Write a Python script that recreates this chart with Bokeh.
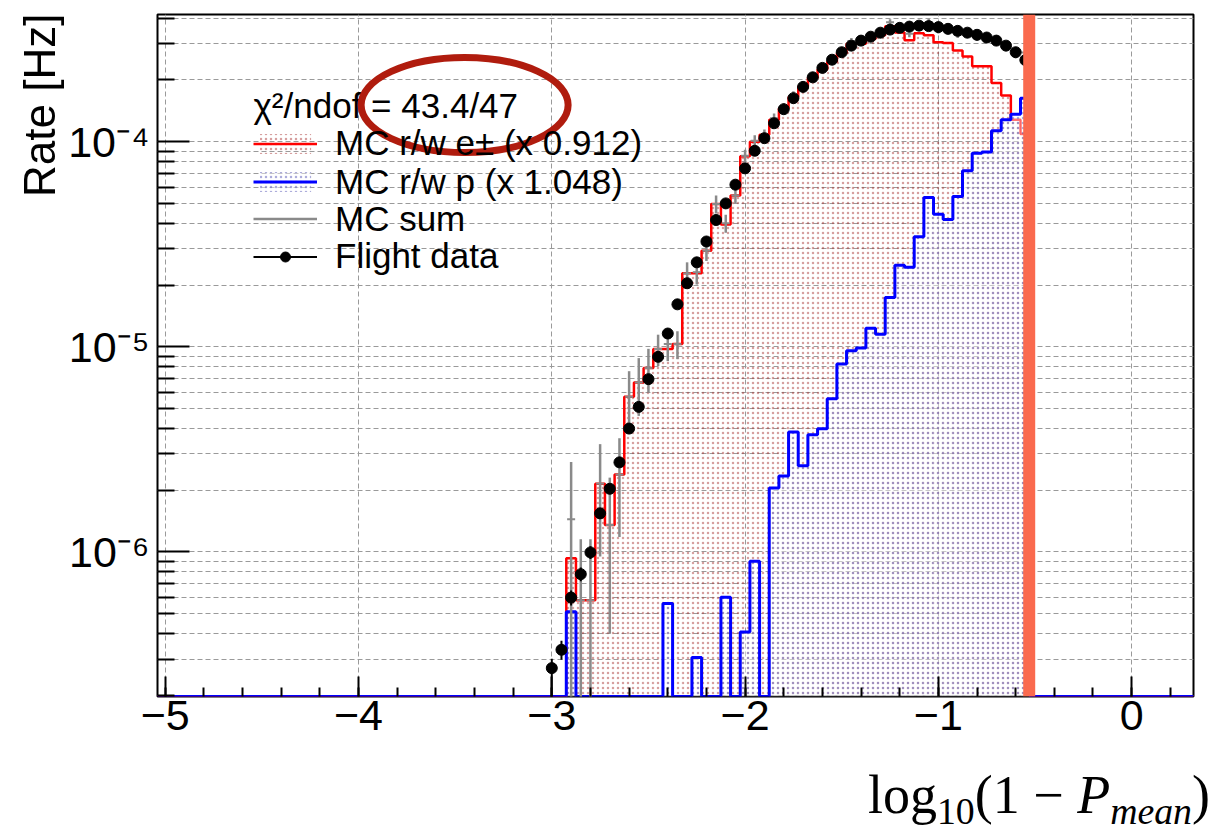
import numpy as np
from bokeh.plotting import figure
from bokeh.layouts import column
from bokeh.models import (Span, Legend, LegendItem, FixedTicker, Label,
                          CustomJSTickFormatter, Range1d, Div)
from bokeh.embed import file_html
from bokeh.resources import INLINE

# ---------------- data ----------------
bin_width = 0.05
bin_centers = [-3.00, -2.95, -2.90, -2.85, -2.80, -2.75, -2.70, -2.65, -2.60, -2.55,
               -2.50, -2.45, -2.40, -2.35, -2.30, -2.25, -2.20, -2.15, -2.10, -2.05,
               -2.00, -1.95, -1.90, -1.85, -1.80, -1.75, -1.70, -1.65, -1.60, -1.55,
               -1.50, -1.45, -1.40, -1.35, -1.30, -1.25, -1.20, -1.15, -1.10, -1.05,
               -1.00, -0.95, -0.90, -0.85, -0.80, -0.75, -0.70, -0.65, -0.60, -0.55]

mc_electron = [0, 0, 9.3e-7, 5.8e-7, 5.8e-7, 2.15e-6, 1.35e-6, 2.38e-6, 5.7e-6, 6.7e-6,
               7.87e-6, 9.75e-6, 9.75e-6, 1.03e-5, 2.28e-5, 2.28e-5, 2.94e-5, 4.97e-5, 3.94e-5, 5.46e-5,
               8.5e-5, 1.0e-4, 1.08e-4, 1.28e-4, 1.45e-4, 1.65e-4, 1.86e-4, 2.05e-4, 2.25e-4, 2.45e-4,
               2.70e-4, 3.0e-4, 3.0e-4, 3.17e-4, 3.3e-4, 3.65e-4, 3.41e-4, 3.12e-4, 3.38e-4, 3.3e-4,
               3.05e-4, 3.03e-4, 2.78e-4, 2.6e-4, 2.33e-4, 2.33e-4, 1.93e-4, 1.68e-4, 1.28e-4, 1.09e-4]

mc_proton = [0, 0, 5.1e-7, 0, 0, 0, 0, 0, 0, 0,
             0, 0, 5.6e-7, 0, 0, 3.05e-7, 0, 0, 6.0e-7, 0,
             4.07e-7, 9.0e-7, 0, 2.05e-6, 2.34e-6, 3.84e-6, 2.63e-6, 3.72e-6, 3.98e-6, 5.58e-6,
             8.24e-6, 9.55e-6, 9.86e-6, 1.23e-5, 1.15e-5, 1.74e-5, 2.5e-5, 2.44e-5, 3.44e-5, 5.35e-5,
             4.43e-5, 4.17e-5, 5.41e-5, 7.22e-5, 8.77e-5, 8.9e-5, 1.13e-4, 1.28e-4, 1.36e-4, 1.63e-4]

mc_sum_err = [0, 0, 1.3e-6, 5.7e-7, 5.7e-7, 1.2e-6, 9.5e-7, 1.2e-6, 1.9e-6, 2.1e-6,
              1.9e-6, 1.7e-6, 1.8e-6, 1.6e-6, 3.0e-6, 3.0e-6, 3.2e-6, 5.0e-6, 4.0e-6, 4.5e-6,
              6.0e-6, 6.5e-6, 6.5e-6, 7.0e-6, 7.0e-6, 7.5e-6, 8.0e-6, 8.5e-6, 9.0e-6, 9.5e-6,
              1.0e-5, 1.1e-5, 1.1e-5, 1.2e-5, 1.2e-5, 1.3e-5, 1.3e-5, 1.3e-5, 1.3e-5, 1.3e-5,
              1.2e-5, 1.2e-5, 1.2e-5, 1.1e-5, 1.1e-5, 1.1e-5, 1.0e-5, 9.5e-6, 9.0e-6, 8.5e-6]

flight_data = [2.71e-7, 3.33e-7, 5.98e-7, 7.78e-7, 9.93e-7, 1.54e-6, 2.03e-6, 2.73e-6, 3.99e-6, 5.09e-6,
               6.95e-6, 8.93e-6, 1.16e-5, 1.61e-5, 2.04e-5, 2.58e-5, 3.26e-5, 4.15e-5, 5.0e-5, 6.17e-5,
               7.41e-5, 9.03e-5, 1.04e-4, 1.23e-4, 1.44e-4, 1.63e-4, 1.85e-4, 2.06e-4, 2.29e-4, 2.51e-4,
               2.73e-4, 2.94e-4, 3.11e-4, 3.25e-4, 3.40e-4, 3.52e-4, 3.59e-4, 3.64e-4, 3.68e-4, 3.66e-4,
               3.62e-4, 3.55e-4, 3.47e-4, 3.40e-4, 3.32e-4, 3.22e-4, 3.11e-4, 2.94e-4, 2.73e-4, 2.50e-4]

flight_err_hi = [3.0e-8, 3.5e-8, 5e-8, 6e-8, 7e-8, 9e-8, 1.1e-7, 1.3e-7, 1.6e-7, 1.8e-7,
                 2.1e-7, 2.4e-7, 2.7e-7, 3.2e-7, 3.6e-7, 4.0e-7, 4.5e-7, 5.1e-7, 5.6e-7, 6.2e-7,
                 6.8e-7, 7.5e-7, 8.1e-7, 8.8e-7, 9.5e-7, 1.0e-6, 1.1e-6, 1.15e-6, 1.2e-6, 1.3e-6,
                 1.35e-6, 1.4e-6, 1.45e-6, 1.5e-6, 1.5e-6, 1.55e-6, 1.55e-6, 1.6e-6, 1.6e-6, 1.6e-6,
                 1.6e-6, 1.55e-6, 1.55e-6, 1.5e-6, 1.5e-6, 1.5e-6, 1.45e-6, 1.4e-6, 1.35e-6, 1.3e-6]
flight_err_lo = [2.71e-7] + flight_err_hi[1:]

legend_header = "\u03c7\u00b2/ndof = 43.4/47"
legend_labels = ["MC r/w e\u00b1 (x 0.912)", "MC r/w p (x 1.048)", "MC sum", "Flight data"]
y_title = "Rate [Hz]"
x_title_html = "log<sub>10</sub>(1 &minus; <i>P<sub>mean</sub></i>)"
x_major_ticks = [-5, -4, -3, -2, -1, 0]
y_major_ticks = [1e-6, 1e-5, 1e-4]
cut_value = -0.53

X_START, X_END = -5.04, 0.32
Y_START, Y_END = 1.97e-7, 4.17e-4

# ---------------- styles ----------------
SANS = "Liberation Sans"
SERIF = "Liberation Serif"
RED = "#ff0000"
BLUE = "#0000ff"
GRAY = "#8a8a8a"
W = 1218
MAIN_H = 760
TITLE_H = 74
FRAME_BOTTOM = 696  # canvas y of the frame bottom

p = figure(width=W, height=MAIN_H, x_range=Range1d(X_START, X_END),
           y_range=Range1d(Y_START, Y_END), y_axis_type="log",
           output_backend="svg", toolbar_location=None,
           min_border_left=157, min_border_right=25, min_border_top=14,
           min_border_bottom=MAIN_H - FRAME_BOTTOM)
p.background_fill_color = "white"
p.border_fill_color = "white"
p.outline_line_color = "black"
p.outline_line_width = 2

c = np.array(bin_centers)
left = c - bin_width / 2
right = c + bin_width / 2
e_vals = np.array(mc_electron, dtype=float)
p_vals = np.array(mc_proton, dtype=float)
d_vals = np.array(flight_data, dtype=float)
s_vals = e_vals + p_vals


def step_xy(vals):
    xs = np.concatenate([[X_START], left, [right[-1], X_END]])
    ys = np.concatenate([[Y_START], np.where(vals > 0, vals, Y_START), [Y_START, Y_START]])
    return xs, ys


# red electron histogram (fill + outline)
me = e_vals > 0
red_fill = p.quad(left=left[me], right=right[me], bottom=Y_START, top=e_vals[me],
                  fill_color=None, line_color=None, hatch_pattern="dot",
                  hatch_color="#a52a2a", hatch_scale=5, hatch_weight=1.2, hatch_alpha=0.45)
xs, ys = step_xy(e_vals)
red_line = p.step(x=xs, y=ys, mode="after", line_color=RED, line_width=2.5)

# blue proton histogram
mp = p_vals > 0
blue_fill = p.quad(left=left[mp], right=right[mp], bottom=Y_START, top=p_vals[mp],
                   fill_color="white", fill_alpha=0.45, line_color=None, hatch_pattern="dot",
                   hatch_color="#4a4ab0", hatch_scale=5, hatch_weight=1.2, hatch_alpha=0.45)
xs, ys = step_xy(p_vals)
blue_line = p.step(x=xs, y=ys, mode="after", line_color=BLUE, line_width=3)

# MC sum (gray error bars)
ms = s_vals > 0
err = np.array(mc_sum_err)
sum_lo = np.maximum(s_vals - err, Y_START * 0.5)
sum_hi = s_vals + err
sum_err = p.segment(x0=c[ms], y0=sum_lo[ms], x1=c[ms], y1=sum_hi[ms],
                    line_color=GRAY, line_width=2.5)
p.scatter(x=c[ms], y=s_vals[ms], marker="dash", size=8, line_color=GRAY, line_width=2)
sum_icon = p.quad(left=[], right=[], bottom=[], top=[], fill_color=None, line_color=None,
                  hatch_pattern="dot", hatch_color="#c04040", hatch_scale=9,
                  hatch_weight=1.2, hatch_alpha=0.6)

# Flight data
d_lo = np.maximum(d_vals - np.array(flight_err_lo), Y_START * 0.5)
d_hi = d_vals + np.array(flight_err_hi)
data_err = p.segment(x0=c, y0=d_lo, x1=c, y1=d_hi, line_color="black", line_width=2)
data_pts = p.scatter(x=c, y=d_vals, marker="circle", size=11, fill_color="black",
                     line_color="black")

# cut line
p.add_layout(Span(location=cut_value, dimension="height", line_color="#fa6a4e",
                  line_width=12))

# ---------------- axes ----------------
minor_x = [round(-5.0 + 0.2 * k, 1) for k in range(0, 27)]
minor_y = [m * 10.0 ** d for d in range(-7, -3) for m in range(2, 10)]
p.xaxis.ticker = FixedTicker(ticks=x_major_ticks, minor_ticks=minor_x)
p.yaxis.ticker = FixedTicker(ticks=y_major_ticks, minor_ticks=minor_y)
p.xgrid.ticker = FixedTicker(ticks=x_major_ticks)
p.ygrid.ticker = FixedTicker(ticks=y_major_ticks, minor_ticks=minor_y)

p.xaxis.formatter = CustomJSTickFormatter(code="""
    return tick < 0 ? "\\u2212" + Math.abs(tick) : String(tick);
""")
p.yaxis.formatter = CustomJSTickFormatter(code="""
    const e = Math.round(Math.log10(tick));
    const sup = {"-": "\\u207b", "0": "\\u2070", "1": "\\u00b9", "2": "\\u00b2", "3": "\\u00b3",
                 "4": "\\u2074", "5": "\\u2075", "6": "\\u2076", "7": "\\u2077", "8": "\\u2078", "9": "\\u2079"};
    return "10" + String(e).split("").map(ch => sup[ch]).join("");
""")

for ax in (p.xaxis, p.yaxis):
    ax.axis_line_color = None
    ax.major_tick_out = 0
    ax.minor_tick_out = 0
    ax.major_tick_line_color = "black"
    ax.minor_tick_line_color = "black"
    ax.major_tick_line_width = 2
    ax.minor_tick_line_width = 2
    ax.major_label_text_font = SANS
    ax.major_label_text_font_size = "43px"
    ax.major_label_text_color = "black"
p.xaxis.major_tick_in = 20
p.xaxis.minor_tick_in = 9
p.yaxis.major_tick_in = 32
p.yaxis.minor_tick_in = 17
p.xaxis.major_label_standoff = 4
p.yaxis.major_label_standoff = 8

for g in (p.xgrid, p.ygrid):
    g.grid_line_color = "#9a9a9a"
    g.grid_line_dash = "5 3"
    g.grid_line_width = 1
p.ygrid.minor_grid_line_color = "#9a9a9a"
p.ygrid.minor_grid_line_dash = "5 3"
p.ygrid.minor_grid_line_width = 1

# ---------------- legend (one block per row for exact row pitch) ----------------
LEG_X = 96
row_centers = [143, 181.5, 218.5, 256]   # canvas y of each legend row
row_renderers = [[red_fill, red_line], [blue_fill, blue_line],
                 [sum_icon, sum_err], [data_err, data_pts]]
for lab, rends, yc in zip(legend_labels, row_renderers, row_centers):
    lg = Legend(items=[LegendItem(label=lab, renderers=rends)],
                location=(LEG_X, FRAME_BOTTOM - yc - 20))
    lg.label_text_font = SANS
    lg.label_text_font_size = "35px"
    lg.label_text_color = "black"
    lg.glyph_width = 64
    lg.glyph_height = 25
    lg.label_standoff = 18
    lg.spacing = 0
    lg.padding = 0
    lg.margin = 0
    lg.border_line_color = None
    lg.background_fill_alpha = 0
    p.add_layout(lg)

p.add_layout(Label(x=LEG_X, y=FRAME_BOTTOM - 105, x_units="screen", y_units="screen",
                   text=legend_header, text_font=SANS, text_font_size="35px",
                   text_align="left", text_baseline="middle", text_color="black"))

# highlight ellipse around the fit quality
p.ellipse(x=[-3.451], y=[1.51e-4], width=[207], height=[95], width_units="screen",
          height_units="screen", fill_color=None, line_color="#b01c0e", line_width=7,
          level="overlay")

# ---------------- axis titles (HTML text, mixed styles) ----------------
sub_css = "font-size:0.7em;vertical-align:-0.3em;line-height:0;"
html = x_title_html.replace("<sub>", f'<sub style="{sub_css}">')
titles = Div(text=(
    f'<div style="width:{W - 8}px;text-align:right;font-family:\'{SERIF}\';'
    f'font-size:54px;line-height:54px;color:black;padding-top:8px;'
    f'white-space:nowrap;">{html}</div>'
    f'<div style="position:fixed;left:18px;top:14px;width:44px;height:185px;'
    f'writing-mode:vertical-rl;transform:rotate(180deg);font-family:\'{SANS}\';'
    f'font-size:44px;line-height:44px;text-align:end;white-space:nowrap;color:black;">'
    f'{y_title}</div>'),
    width=W, height=TITLE_H, margin=0)

layout = column(p, titles, spacing=0)
open("out.html", "w").write(file_html(layout, INLINE))
